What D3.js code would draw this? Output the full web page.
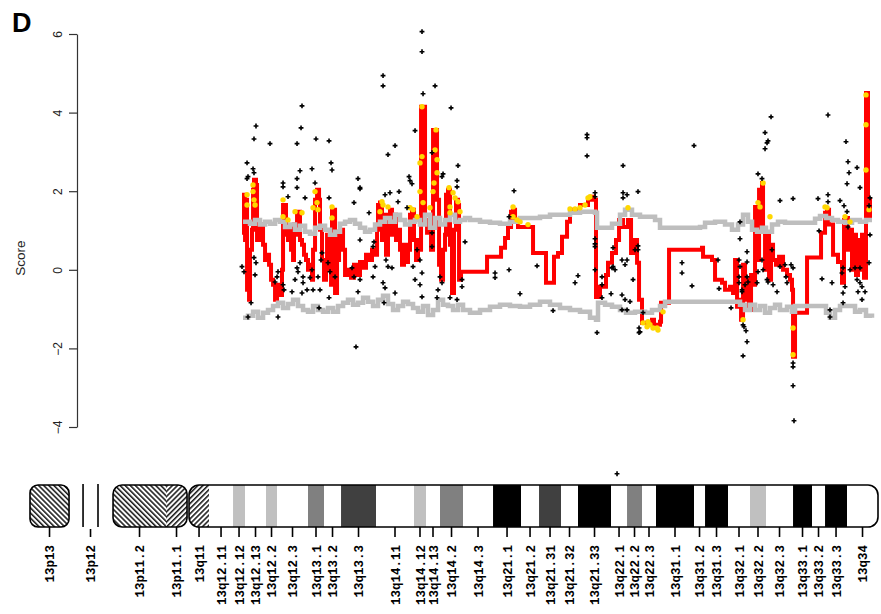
<!DOCTYPE html>
<html><head><meta charset="utf-8">
<script src="https://cdn.jsdelivr.net/npm/d3@7"></script>
<style>body{margin:0;background:#fff}svg{display:block}</style>
</head><body><svg id="c" width="881" height="614"></svg>
<script>
// ---- data (position in Mb-like units along chromosome 13, score) ----
const yTicks = [-4, -2, 0, 2, 4, 6];

const redLine = [[26.63,0.89],[26.75,1.91],[26.88,0.76],[27.0,1.78],[27.13,-0.51],[27.38,-0.76],[27.5,0.51],[27.75,1.02],[27.88,2.04],[28.0,2.29],[28.25,2.16],[28.38,0.76],[28.63,1.02],[28.88,1.15],[29.13,0.64],[29.38,0.25],[29.63,0.38],[29.88,0.13],[30.13,-0.25],[30.38,-0.38],[30.63,-0.76],[30.88,-0.51],[31.13,-0.38],[31.38,-0.64],[31.5,0],[31.63,1.65],[31.88,1.65],[32.0,0.89],[32.25,0.76],[32.5,1.02],[32.63,0.51],[32.88,0.25],[33.0,1.15],[33.25,0.89],[33.38,1.48],[33.63,1.48],[33.75,0.76],[34.0,0.64],[34.25,0.38],[34.5,0.25],[34.75,0],[35.0,0.13],[35.25,-0.25],[35.38,0.51],[35.63,1.78],[35.88,2.04],[36.13,1.78],[36.25,1.02],[36.5,0.25],[36.75,-0.25],[37.0,0],[37.13,0.89],[37.38,0.76],[37.63,-0.38],[37.75,1.53],[38.0,1.53],[38.13,-0.59],[38.38,0.25],[38.63,0.97],[38.88,1.02],[39.13,0.51],[39.38,-0.13],[39.75,0],[40.13,-0.2],[40.5,0.13],[40.88,-0.13],[41.25,0.2],[41.63,0.05],[42.0,0.38],[42.38,0.25],[42.75,0.51],[43.13,0.38],[43.38,1.02],[43.5,1.65],[43.75,1.71],[44.0,0.76],[44.25,1.4],[44.5,0.38],[44.75,1.15],[45.0,1.53],[45.25,0.89],[45.5,1.4],[45.75,0.76],[46.0,1.02],[46.25,0.51],[46.5,0.13],[46.75,0.64],[47.0,0.2],[47.25,0.51],[47.5,1.4],[47.75,1.53],[48.0,0.76],[48.25,0.25],[48.5,0.76],[48.75,0.51],[48.88,4.15],[49.25,4.15],[49.38,1.27],[49.63,0.94],[49.88,1.15],[50.13,0.51],[50.38,3.56],[50.75,3.56],[50.88,1.78],[51.13,0.13],[51.38,-0.25],[51.63,0.51],[51.88,0.89],[52.0,1.91],[52.25,2.04],[52.5,0.64],[52.75,-0.59],[53.0,1.02],[53.25,1.78],[53.5,1.65],[53.63,-0.25],[53.88,-0.05],[57.0,-0.05],[57.13,0.33],[58.75,0.33],[58.88,0.56],[59.38,0.81],[59.75,1.09],[60.13,1.48],[60.38,1.53],[60.63,1.27],[61.0,1.09],[62.75,1.09],[62.88,0.43],[64.38,0.43],[64.5,-0.33],[65.38,-0.33],[65.5,0.33],[66.0,0.43],[66.5,0.84],[67.13,1.22],[67.5,1.53],[68.75,1.65],[69.75,1.78],[70.25,1.86],[70.5,1.78],[70.75,-0.69],[71.25,-0.43],[72.0,-0.13],[72.25,0.18],[72.75,0.43],[73.25,0.76],[73.63,1.27],[74.13,1.09],[74.75,1.27],[75.13,0.43],[75.5,0.76],[75.88,0.18],[76.13,-0.76],[76.5,-1.35],[77.75,-1.27],[78.0,-1.4],[78.75,-1.32],[78.88,-0.84],[79.75,-0.84],[79.88,0.51],[82.75,0.51],[84.0,0.56],[84.13,0.33],[85.25,0.25],[85.63,-0.25],[86.5,-0.33],[86.88,-0.51],[87.5,-0.43],[87.88,-0.59],[88.13,0.25],[88.38,-0.94],[88.63,-0.76],[88.88,-1.27],[89.13,0.13],[89.38,-0.76],[89.63,-0.25],[89.88,-1.02],[90.13,-0.13],[90.38,-0.38],[90.63,1.6],[90.88,0.25],[91.13,2.04],[91.5,2.21],[91.63,1.02],[91.88,0],[92.13,0.89],[92.38,-0.25],[92.63,0.64],[92.88,0.25],[93.25,0.13],[93.63,0.33],[94.13,0],[94.63,-0.13],[95.0,-0.25],[95.25,-0.51],[95.38,-2.21],[95.5,-2.21],[95.63,-1.09],[97.0,-1.09],[97.13,0.31],[98.75,0.31],[98.88,0.94],[99.38,1.45],[99.63,1.53],[99.88,1.15],[100.38,0.38],[101.0,0.2],[101.5,-0.33],[101.75,1.27],[102.0,1.32],[102.25,0.51],[102.5,1.02],[102.75,0],[103.0,0.89],[103.25,-0.13],[103.5,0.76],[103.75,0],[104.0,0.89],[104.25,-0.2],[104.5,4.5],[104.63,4.5],[104.75,1.78],[105.0,1.27]];

const upperThreshold = [[26.63,1.22],[27.5,1.17],[28.13,1.27],[28.75,1.15],[29.38,1.22],[30.0,1.17],[30.63,1.27],[31.25,1.22],[31.88,1.09],[32.5,1.15],[33.13,1.02],[33.75,1.12],[34.38,0.97],[35.0,0.92],[35.63,1.07],[36.25,1.12],[36.88,1.02],[37.5,0.89],[38.13,0.97],[38.75,1.17],[39.38,1.22],[40.0,1.27],[40.63,1.17],[41.25,1.07],[41.88,0.97],[42.5,1.02],[43.13,1.15],[43.75,1.22],[44.38,1.32],[45.0,1.22],[45.63,1.4],[46.25,1.27],[46.88,1.15],[47.5,1.22],[48.13,1.27],[48.75,1.15],[49.38,1.4],[50.0,1.07],[50.63,1.32],[51.25,1.15],[51.88,1.27],[52.5,1.4],[53.13,1.22],[53.75,1.27],[54.38,1.32],[55.0,1.27],[56.25,1.22],[57.5,1.2],[58.75,1.17],[60.0,1.22],[61.25,1.32],[62.5,1.32],[63.75,1.35],[65.0,1.4],[66.25,1.4],[67.5,1.45],[68.75,1.48],[70.0,1.48],[70.63,1.45],[70.88,1.07],[71.88,1.07],[72.75,1.17],[73.75,1.4],[74.38,1.53],[75.25,1.4],[76.25,1.35],[77.5,1.35],[78.13,1.27],[78.75,1.07],[81.25,1.07],[83.75,1.09],[84.38,1.2],[85.63,1.22],[86.88,1.15],[87.75,1.02],[88.5,1.15],[89.13,1.4],[89.75,1.22],[90.25,1.02],[90.88,0.97],[91.5,1.07],[92.0,0.97],[92.75,1.15],[93.5,1.22],[94.38,1.2],[95.63,1.2],[96.88,1.2],[98.13,1.3],[98.75,1.37],[99.5,1.32],[100.25,1.27],[101.0,1.22],[101.88,1.2],[102.75,1.27],[103.75,1.22],[104.5,1.27],[105.25,1.27]];

const lowerThreshold = [[26.63,-1.22],[27.25,-1.17],[27.88,-1.07],[28.5,-1.22],[29.13,-1.09],[29.75,-1.02],[30.38,-0.92],[31.0,-0.84],[31.63,-0.97],[32.25,-0.87],[32.88,-0.76],[33.5,-0.92],[34.13,-1.02],[34.75,-1.07],[35.38,-0.92],[36.0,-1.02],[36.63,-1.07],[37.25,-0.97],[37.88,-1.07],[38.5,-0.92],[39.13,-0.84],[39.75,-0.76],[40.38,-0.89],[41.0,-0.84],[41.63,-0.71],[42.25,-0.81],[42.88,-0.92],[43.5,-0.76],[44.13,-0.66],[44.75,-0.87],[45.38,-1.02],[46.0,-0.92],[46.63,-0.81],[47.25,-0.87],[47.88,-0.97],[48.5,-1.07],[49.13,-0.92],[49.75,-1.15],[50.38,-1.02],[51.0,-0.76],[51.63,-0.89],[52.25,-0.92],[52.88,-1.02],[53.5,-0.89],[54.13,-1.02],[55.0,-1.09],[56.25,-1.02],[57.5,-0.94],[58.75,-0.89],[60.0,-0.92],[61.25,-0.94],[62.5,-0.89],[63.75,-0.81],[65.0,-0.89],[66.25,-0.97],[67.5,-1.02],[68.75,-1.07],[70.0,-1.22],[70.75,-1.27],[71.0,-0.84],[71.88,-0.89],[72.75,-0.94],[73.75,-1.02],[74.5,-1.09],[75.63,-1.07],[76.88,-1.09],[77.75,-1.02],[78.75,-0.92],[79.38,-0.81],[81.25,-0.81],[83.75,-0.81],[86.25,-0.81],[88.13,-0.81],[88.75,-0.89],[89.38,-1.02],[90.0,-0.89],[90.63,-1.02],[91.25,-0.92],[91.88,-1.09],[92.5,-0.97],[93.13,-0.89],[93.75,-1.02],[94.63,-0.94],[95.25,-1.07],[95.63,-0.92],[97.5,-0.92],[98.75,-0.92],[99.5,-1.09],[100.0,-1.22],[100.63,-1.02],[101.25,-0.92],[102.25,-0.92],[103.13,-1.07],[103.75,-1.02],[104.5,-1.17],[105.25,-1.22]];

const highlightPoints = [[27.13,1.91],[27.13,1.65],[27.88,2.16],[27.88,1.99],[28.0,1.78],[28.13,1.65],[31.63,1.78],[31.63,1.35],[33.13,1.48],[34.0,1.45],[32.25,1.27],[35.63,1.99],[35.88,1.71],[35.38,1.58],[36.0,1.53],[37.75,1.6],[37.75,1.32],[44.0,1.73],[44.13,1.65],[43.75,1.48],[44.75,1.6],[47.5,1.58],[47.88,1.53],[48.38,1.35],[49.0,4.15],[49.0,2.88],[48.75,2.72],[48.75,1.99],[49.13,1.71],[50.75,3.56],[50.63,3.05],[50.88,2.8],[50.88,2.47],[50.5,2.21],[50.38,1.99],[50.0,1.58],[52.38,2.09],[52.88,1.96],[53.13,1.83],[52.5,1.6],[53.5,1.73],[53.75,1.48],[52.5,1.45],[60.38,1.6],[60.38,1.35],[60.88,1.27],[61.25,1.22],[62.25,1.15],[67.5,1.55],[68.13,1.55],[68.75,1.58],[69.38,1.65],[69.75,1.83],[70.0,1.86],[74.75,1.58],[76.63,-1.35],[77.13,-1.45],[77.5,-1.4],[77.88,-1.48],[78.38,-1.48],[78.5,-1.53],[77.25,-1.32],[79.13,-1.07],[89.13,-1.27],[91.0,1.71],[91.25,1.6],[91.63,2.21],[92.5,1.35],[95.38,-1.48],[95.38,-2.16],[99.38,1.6],[99.63,1.58],[101.88,1.35],[102.5,1.22],[104.5,4.45],[104.5,3.69],[104.5,2.54],[104.88,1.53]];

const probePoints = [[34.0,4.17],[28.25,3.66],[28.0,3.33],[33.88,3.61],[30.0,3.21],[33.38,3.21],[35.75,3.33],[37.38,3.28],[27.13,2.72],[27.25,2.37],[27.13,2.32],[27.88,2.57],[28.0,2.47],[33.75,2.52],[35.25,2.57],[37.63,2.72],[37.75,2.54],[33.38,2.32],[31.63,2.21],[31.63,2.11],[33.38,2.09],[35.63,2.21],[37.38,1.83],[34.38,1.83],[32.25,1.86],[41.0,2.32],[41.25,2.06],[40.5,1.71],[26.5,0.08],[26.75,-0.05],[28.0,0.31],[28.25,0.18],[28.13,-0.13],[27.63,-0.84],[27.25,-1.2],[31.0,-0.05],[30.88,-0.18],[30.63,-0.31],[31.63,-0.38],[31.75,-0.51],[32.75,-0.56],[33.13,-0.25],[33.5,-0.05],[33.75,0.18],[33.38,0.05],[34.13,-0.18],[34.13,-0.33],[34.0,-0.59],[34.63,-0.51],[35.0,-0.2],[35.25,0],[35.38,-0.51],[36.0,-0.18],[36.38,0.25],[36.5,0.43],[36.25,-0.51],[36.13,-0.97],[37.5,-0.05],[37.38,-0.71],[38.13,-0.18],[37.25,0.18],[31.0,-1.2],[40.75,-1.96],[40.25,0.05],[40.5,-0.18],[41.25,-0.25],[41.0,-0.56],[41.25,0.76],[49.0,6.06],[49.0,5.55],[44.13,4.94],[44.13,4.68],[50.63,4.68],[49.13,4.48],[52.63,4.12],[48.13,3.54],[45.63,3.16],[44.75,2.93],[50.25,2.98],[51.63,2.44],[51.5,2.37],[53.5,2.65],[47.38,2.37],[47.5,2.27],[47.75,2.19],[46.13,1.99],[53.38,2.27],[53.38,2.11],[44.38,1.91],[45.0,1.96],[46.0,1.73],[47.13,1.58],[42.38,1.45],[41.25,2.09],[43.0,0.71],[42.88,0.59],[44.5,0.25],[44.75,0.08],[45.25,0.05],[43.13,0.08],[42.88,-0.18],[44.13,-0.33],[44.38,-0.46],[45.63,-0.59],[44.25,-0.84],[48.38,0.51],[48.75,0.25],[49.0,-0.08],[48.75,-0.38],[49.0,-0.69],[47.88,0.08],[48.13,-0.25],[50.25,0.94],[50.25,0.59],[51.25,-0.18],[51.5,-0.33],[51.0,-0.51],[50.88,-0.71],[52.5,-0.71],[53.38,-0.76],[54.0,-0.25],[54.0,-0.43],[54.38,0.71],[69.63,3.44],[69.63,3.36],[69.63,2.9],[60.5,2.01],[70.63,1.96],[70.63,1.86],[59.88,1.35],[59.88,0],[58.13,-0.08],[58.13,-0.2],[63.38,0.1],[61.25,-0.61],[65.38,-1.04],[68.5,-0.15],[68.13,-0.33],[70.63,0.79],[70.63,0.66],[70.63,0.59],[70.63,0],[71.5,-0.18],[71.5,-0.38],[72.88,0.56],[72.88,0.08],[72.63,-0.61],[70.88,-1.6],[71.5,-0.71],[74.13,2.65],[74.13,1.96],[74.63,1.91],[74.13,1.83],[76.0,1.99],[72.75,0.05],[73.13,0],[74.63,0.25],[74.38,0.13],[75.38,-0.25],[75.63,0.51],[74.38,-0.76],[74.63,-1.02],[76.63,-1.09],[76.25,-1.58],[83.0,3.16],[76.0,0.61],[76.0,0.51],[74.0,0.25],[74.0,-0.64],[74.0,-1.02],[75.0,-0.81],[76.13,-1.48],[76.13,-1.6],[81.5,0.18],[81.5,-0.08],[82.75,-0.41],[86.0,0.25],[86.13,-0.48],[87.63,-0.97],[88.75,0.79],[88.63,-0.18],[88.63,-0.33],[89.0,-0.56],[89.13,-1.4],[89.13,-2.19],[92.63,3.89],[91.88,3.49],[92.25,3.28],[92.13,3.23],[91.88,3.08],[91.0,2.44],[91.5,2.32],[93.75,1.76],[95.38,1.81],[88.75,1.22],[88.63,0.25],[88.75,0.08],[89.63,0.46],[89.63,0.2],[89.63,-0.18],[89.75,-0.31],[89.38,-0.38],[89.0,-0.51],[89.25,-1.45],[89.5,-1.55],[89.63,-1.83],[91.0,-0.05],[90.88,-0.33],[91.5,0.25],[91.63,0],[92.13,-0.25],[92.25,-0.31],[92.75,0.51],[92.88,-0.38],[93.38,-0.56],[93.75,0.08],[94.38,0.13],[94.5,-0.18],[94.63,-0.33],[95.13,0.13],[95.38,0.05],[95.38,-2.37],[95.38,-2.47],[95.38,-2.95],[95.5,-3.84],[99.75,3.94],[102.0,3.26],[102.25,2.75],[102.38,2.47],[103.38,2.6],[102.13,2.19],[103.75,2.09],[98.5,1.81],[99.75,1.91],[99.75,1.73],[101.25,1.76],[101.75,1.63],[102.13,1.48],[98.63,0.99],[99.0,-0.23],[100.25,-0.33],[101.63,0.05],[101.5,-0.08],[101.88,-0.43],[101.63,-0.59],[101.63,-0.84],[102.5,0],[103.13,0.05],[103.38,-0.25],[103.75,-0.33],[103.5,-0.56],[104.0,-0.43],[104.38,-0.56],[104.0,-0.76],[105.0,0.89],[104.88,0.18],[105.0,1.83],[104.88,1.63],[100.0,-1.02],[100.0,-1.2],[103.75,0.05],[102.25,1.09],[73.38,-5.19]];

// cytobands: name, start, end, stain
const pArmBands = [["13p13",0,4.88,"hatchB"],["13p12",6.63,8.5,"stalk"],["13p11.2",10.38,17.0,"hatchB"],["13p11.1",17.0,19.63,"hatchF"]];
const qArmBands = [["13q11",19.88,22.38,"hatchF"],["13q12.11",22.38,25.38,"gneg"],["13q12.12",25.38,26.88,"gpos25"],["13q12.13",26.88,29.5,"gneg"],["13q12.2",29.5,30.88,"gpos25"],["13q12.3",30.88,34.75,"gneg"],["13q13.1",34.75,36.75,"gpos50"],["13q13.2",36.75,38.88,"gneg"],["13q13.3",38.88,43.25,"gpos75"],["13q14.11",43.25,48.0,"gneg"],["13q14.12",48.0,49.5,"gpos25"],["13q14.13",49.5,51.25,"gneg"],["13q14.2",51.25,54.13,"gpos50"],["13q14.3",54.13,57.88,"gneg"],["13q21.1",57.88,61.38,"gpos100"],["13q21.2",61.38,63.63,"gneg"],["13q21.31",63.63,66.38,"gpos75"],["13q21.32",66.38,68.5,"gneg"],["13q21.33",68.5,72.63,"gpos100"],["13q22.1",72.63,74.63,"gneg"],["13q22.2",74.63,76.5,"gpos50"],["13q22.3",76.5,78.25,"gneg"],["13q31.1",78.25,83.0,"gpos100"],["13q31.2",83.0,84.38,"gneg"],["13q31.3",84.38,87.25,"gpos100"],["13q32.1",87.25,90.0,"gneg"],["13q32.2",90.0,92.0,"gpos25"],["13q32.3",92.0,95.38,"gneg"],["13q33.1",95.38,97.75,"gpos100"],["13q33.2",97.75,99.38,"gneg"],["13q33.3",99.38,102.13,"gpos100"],["13q34",102.13,106.0,"gneg"]];
const stainColors = {gneg:"#ffffff",gpos25:"#c0c0c0",gpos50:"#808080",gpos75:"#404040",gpos100:"#000000"};

// ---- drawing ----
const svg = d3.select("#c");
const x = d3.scaleLinear().domain([0,106]).range([30,878]);
const y = d3.scaleLinear().domain([-4,6]).range([427,34]);

const defs = svg.append("defs");
function hatch(id, angle){
  const p = defs.append("pattern").attr("id",id).attr("patternUnits","userSpaceOnUse")
    .attr("width",3.6).attr("height",10).attr("patternTransform",`rotate(${angle})`);
  p.append("rect").attr("width",3.6).attr("height",10).attr("fill","#fff");
  p.append("line").attr("x1",0.8).attr("y1",0).attr("x2",0.8).attr("y2",10).attr("stroke","#000").attr("stroke-width",1.4);
}
hatch("hatchB",-45);
hatch("hatchF",45);

// title letter
svg.append("text").attr("x",12).attr("y",32).text("D")
  .attr("font-family","Liberation Sans, Arial, sans-serif").attr("font-weight","bold").attr("font-size",27);

// y axis
const yAxis = svg.append("g").attr("transform","translate(77,0)")
  .call(d3.axisLeft(y).tickValues(yTicks).tickSize(8).tickSizeOuter(0).tickFormat(d3.format("d")));
yAxis.select(".domain").attr("stroke","#333").attr("stroke-width",1.2);
yAxis.selectAll(".tick line").attr("stroke","#333").attr("stroke-width",1.2);
yAxis.selectAll(".tick text").attr("x",null).attr("dy",null).attr("text-anchor","middle")
  .attr("transform","translate(-15,0) rotate(-90)")
  .attr("font-family","Liberation Sans, Arial, sans-serif").attr("font-size",12).attr("fill","#222");
svg.append("text").attr("transform","translate(25,258) rotate(-90)").attr("text-anchor","middle")
  .attr("font-family","Liberation Sans, Arial, sans-serif").attr("font-size",13.5).attr("fill","#222").text("Score");

// lines
const line = d3.line().x(d=>x(d[0])).y(d=>y(d[1])).curve(d3.curveStepAfter);
svg.append("path").datum(redLine).attr("d",line).attr("fill","none").attr("stroke","#ff0000").attr("stroke-width",4);
svg.append("path").datum(upperThreshold).attr("d",line).attr("fill","none").attr("stroke","#bebebe").attr("stroke-width",4.5);
svg.append("path").datum(lowerThreshold).attr("d",line).attr("fill","none").attr("stroke","#bebebe").attr("stroke-width",4.5);

svg.append("g").selectAll("circle").data(highlightPoints).join("circle")
  .attr("cx",d=>x(d[0])).attr("cy",d=>y(d[1])).attr("r",2.7).attr("fill","#ffd700");

const cross = d3.symbol(d3.symbolCross).size(13)();
svg.append("g").selectAll("path").data(probePoints).join("path")
  .attr("d",cross).attr("transform",d=>`translate(${x(d[0])},${y(d[1])})`).attr("fill","#000");

// ideogram
const ideoTop = 485, ideoBot = 527, ideoH = ideoBot-ideoTop;
const ideo = svg.append("g");
// p13
ideo.append("rect").attr("x",x(pArmBands[0][1])).attr("y",ideoTop).attr("width",x(pArmBands[0][2])-x(pArmBands[0][1])).attr("height",ideoH)
  .attr("rx",8).attr("fill","url(#hatchB)").attr("stroke","#000").attr("stroke-width",1.6);
// p12 stalk
[pArmBands[1][1],pArmBands[1][2]].forEach(v=>{
  ideo.append("line").attr("x1",x(v)).attr("x2",x(v)).attr("y1",ideoTop-1).attr("y2",ideoBot).attr("stroke","#000").attr("stroke-width",1.6);
});
// p11
const p11s = pArmBands[2][1], p11e = pArmBands[3][2];
defs.append("clipPath").attr("id","p11clip").append("rect").attr("x",x(p11s)).attr("y",ideoTop).attr("width",x(p11e)-x(p11s)).attr("height",ideoH).attr("rx",9);
const p11g = ideo.append("g").attr("clip-path","url(#p11clip)");
[pArmBands[2],pArmBands[3]].forEach(b=>{
  p11g.append("rect").attr("x",x(b[1])).attr("y",ideoTop).attr("width",x(b[2])-x(b[1])).attr("height",ideoH).attr("fill",`url(#${b[3]})`);
});
ideo.append("rect").attr("x",x(p11s)).attr("y",ideoTop).attr("width",x(p11e)-x(p11s)).attr("height",ideoH).attr("rx",9)
  .attr("fill","none").attr("stroke","#000").attr("stroke-width",1.6);
// q arm
const qs = qArmBands[0][1], qe = qArmBands[qArmBands.length-1][2];
defs.append("clipPath").attr("id","qclip").append("rect").attr("x",x(qs)).attr("y",ideoTop).attr("width",x(qe)-x(qs)).attr("height",ideoH).attr("rx",10);
const qg = ideo.append("g").attr("clip-path","url(#qclip)");
qg.selectAll("rect").data(qArmBands).join("rect")
  .attr("x",d=>x(d[1])).attr("y",ideoTop).attr("width",d=>x(d[2])-x(d[1])).attr("height",ideoH)
  .attr("fill",d=>d[3].startsWith("hatch")?`url(#${d[3]})`:stainColors[d[3]]);
ideo.append("rect").attr("x",x(qs)).attr("y",ideoTop).attr("width",x(qe)-x(qs)).attr("height",ideoH).attr("rx",10)
  .attr("fill","none").attr("stroke","#000").attr("stroke-width",1.6);

// band ticks and labels
const allBands = pArmBands.concat(qArmBands);
const lab = svg.append("g");
allBands.forEach(b=>{
  const cx = x((b[1]+b[2])/2);
  lab.append("line").attr("x1",cx).attr("x2",cx).attr("y1",b[3]==="stalk"?529:ideoBot).attr("y2",537).attr("stroke","#000").attr("stroke-width",1.6);
  lab.append("text").attr("transform",`translate(${cx+4.5},545) rotate(-90)`).attr("text-anchor","end")
    .attr("font-family","Liberation Mono, DejaVu Sans Mono, monospace").attr("font-weight","bold").attr("font-size",12.5).attr("fill","#000").text(b[0]);
});
</script></body></html>
